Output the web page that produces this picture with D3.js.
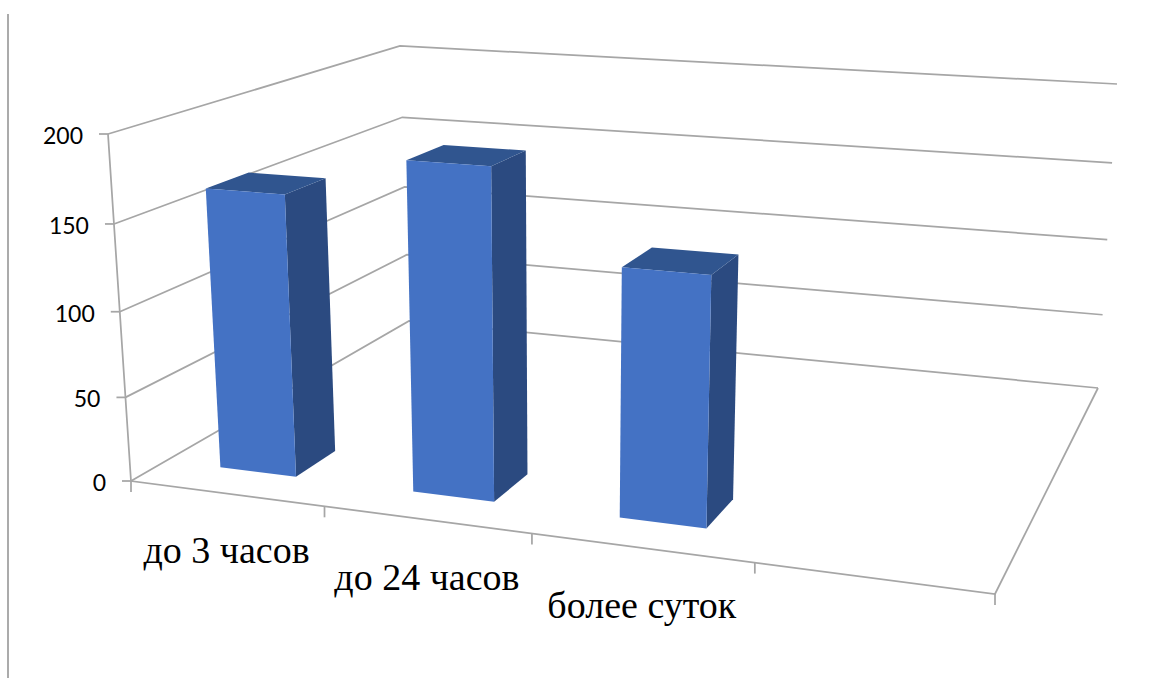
<!DOCTYPE html>
<html><head><meta charset="utf-8">
<style>html,body{margin:0;background:#fff}svg{display:block}</style>
<script src="https://cdn.jsdelivr.net/npm/d3@7"></script></head>
<body><svg id="c" width="1149" height="678"></svg>
<script>
const categories = ["до 3 часов", "до 24 часов", "более суток", ""];
const values = [165, 189, 140, null];
const valueTicks = [0, 50, 100, 150, 200];

// camera: where the plot box corners land on screen
const floorQuad = [[131,481],[995,594],[1098,388],[409,321]];
const ceilQuad  = [[108,134],[1015,197],[1117,84],[400,46]];

// perspective map from the unit square onto a four-sided outline
function squareToQuad(q){
  const [[x0,y0],[x1,y1],[x2,y2],[x3,y3]]=q;
  const dx1=x1-x2,dx2=x3-x2,sx=x0-x1+x2-x3,dy1=y1-y2,dy2=y3-y2,sy=y0-y1+y2-y3;
  const d=dx1*dy2-dx2*dy1, g=(sx*dy2-dx2*sy)/d, h=(dx1*sy-sx*dy1)/d;
  const m=[x1-x0+g*x1,x3-x0+h*x3,x0,y1-y0+g*y1,y3-y0+h*y3,y0,g,h,1];
  return (u,v)=>{const w=m[6]*u+m[7]*v+1;return [(m[0]*u+m[1]*v+m[2])/w,(m[3]*u+m[4]*v+m[5])/w];};
}
const floorMap=squareToQuad(floorQuad), ceilMap=squareToQuad(ceilQuad);

const xScale=d3.scaleLinear().domain([0,categories.length]).range([0,1]);
const yScale=d3.scaleLinear().domain([0,200]).range([0,1]);
const lean=1.05;
function project(cat,val,depth){
  const u=xScale(cat), b=floorMap(u,depth), t=ceilMap(u,depth), s=yScale(val), k=s/(s+(1-s)*lean);
  return [b[0]+(t[0]-b[0])*k,b[1]+(t[1]-b[1])*k];
}
const svg=d3.select("#c");
const line=d3.line();
const gridColor="#a6a6a6";
const pathOf=(pts)=>line(pts)+"Z";

// rule at the left edge of the frame
svg.append("line").attr("x1",8).attr("x2",8).attr("y1",14).attr("y2",678).attr("stroke","#ababab").attr("stroke-width",2);

// walls, value ticks and labels
const g=svg.append("g").attr("fill","none").attr("stroke",gridColor).attr("stroke-width",1.75);
valueTicks.forEach(v=>{
  g.append("path").attr("d",line([project(0,v,0),project(0,v,1),project(categories.length,v,1)]));
  const p=project(0,v,0);
  g.append("line").attr("x1",p[0]-9).attr("x2",p[0]).attr("y1",p[1]).attr("y2",p[1]);
  svg.append("text").attr("x",p[0]-25).attr("y",p[1]+10).attr("text-anchor","end")
    .attr("font-family","Lato").attr("font-size",23).attr("fill","#000").text(v);
});

// front edges of the floor and the category ticks
g.append("path").attr("d",line([project(0,200,0),project(0,0,0),project(categories.length,0,0),project(categories.length,0,1)]));
d3.range(0,categories.length+1).forEach(i=>{const p=project(i,0,0);
  g.append("line").attr("x1",p[0]).attr("x2",p[0]).attr("y1",p[1]).attr("y2",p[1]+11);});
categories.forEach((c,i)=>{
  const p=project(i+0.5,0,0);
  svg.append("text").attr("x",p[0]+0.5).attr("y",p[1]+70).attr("text-anchor","middle")
    .attr("font-family","Liberation Serif").attr("font-size",38).attr("fill","#000").text(c);
});

// boxes: side, top, then front face
const u0=0.29,u1=0.69,d0=0.104,d1=0.236;
values.forEach((v,i)=>{
  if(v==null)return;
  const P=(a,val,d)=>project(i+a,val,d);
  svg.append("path").attr("d",pathOf([P(u1,0,d0),P(u1,0,d1),P(u1,v,d1),P(u1,v,d0)])).attr("fill","#2b4a80");
  svg.append("path").attr("d",pathOf([P(u0,v,d0),P(u1,v,d0),P(u1,v,d1),P(u0,v,d1)])).attr("fill","#30558f");
  svg.append("path").attr("d",pathOf([P(u0,0,d0),P(u1,0,d0),P(u1,v,d0),P(u0,v,d0)])).attr("fill","#4472c4");
});
</script></body></html>
